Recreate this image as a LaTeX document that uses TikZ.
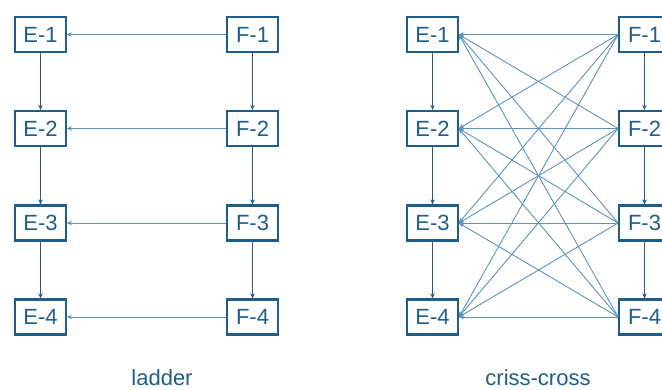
\documentclass[tikz,border=0pt]{standalone}
\usepackage{fontspec}
\setmainfont{Liberation Sans}
\usetikzlibrary{arrows.meta}
\definecolor{dblue}{HTML}{1F5E8A}
\definecolor{lblue}{HTML}{5E92B8}
\tikzset{
  box/.style={draw=dblue, line width=2.2pt, fill=white, minimum width=50.5pt, minimum height=35pt, inner sep=0pt, text=dblue, font=\fontsize{22}{26}\selectfont},
  vconn/.style={draw=dblue, line width=1.9pt, -{Stealth[length=5pt,width=4.5pt]}},
  hconn/.style={draw=lblue, line width=1pt, -{Stealth[length=5pt,width=4.5pt]}},
  xconn/.style={draw=lblue, line width=0.9pt, -{Stealth[length=5pt,width=4.5pt]}},
  lbl/.style={text=dblue, font=\fontsize{22}{26}\selectfont, anchor=base, inner sep=0pt}
}
\begin{document}
\begin{tikzpicture}[x=1pt,y=1pt]
\useasboundingbox (0,0) rectangle (662,-389);
\foreach \i/\y in {1/-34.5,2/-128.5,3/-223,4/-317}{
  \node[box] (LE\i) at (40.5,\y) {E-\i};
  \node[box] (LF\i) at (252.5,\y) {F-\i};
  \node[box] (CE\i) at (432.5,\y) {E-\i};
  \node[box] (CF\i) at (644.5,\y) {F-\i};
}
\foreach \i/\j in {1/2,2/3,3/4}{
  \draw[vconn] (LE\i) -- (LE\j);
  \draw[vconn] (LF\i) -- (LF\j);
  \draw[vconn] (CE\i) -- (CE\j);
  \draw[vconn] (CF\i) -- (CF\j);
}
\foreach \i in {1,2,3,4}{
  \draw[hconn] (LF\i.west) -- (LE\i.east);
}
\foreach \i in {1,2,3,4}{
  \foreach \j in {1,2,3,4}{
    \draw[xconn] (CF\i.west) -- (CE\j.east);
  }
}
\node[lbl] (lad) at (162,-385.5) {ladder};
\node[lbl] (cc) at (538,-385.5) {criss-cross};
\end{tikzpicture}
\end{document}
